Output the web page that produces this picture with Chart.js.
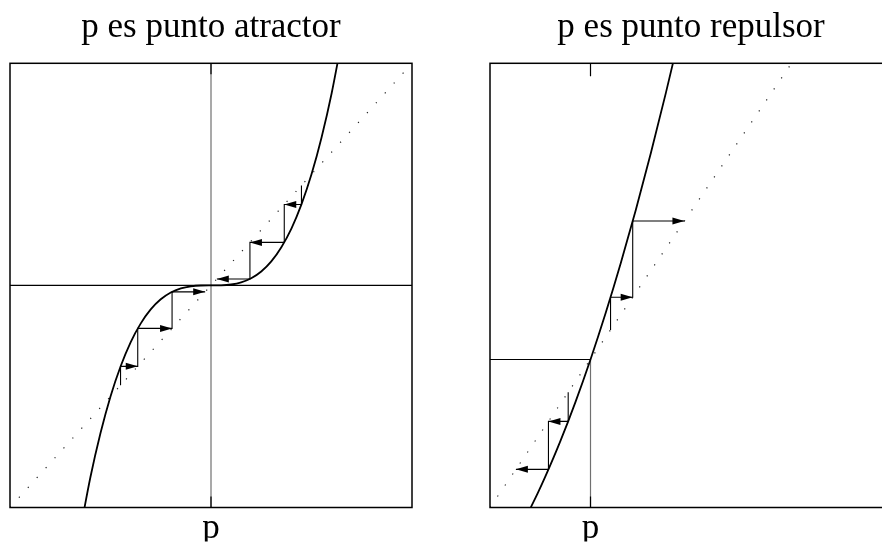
<!DOCTYPE html>
<html><head><meta charset="utf-8">
<script src="https://cdn.jsdelivr.net/npm/chart.js@4/dist/chart.umd.min.js"></script>
<style>
html,body{margin:0;padding:0;width:882px;height:543px;overflow:hidden;background:#fff;}
#wl{position:absolute;left:0;top:0;width:441px;height:543px;}
#wr{position:absolute;left:441px;top:0;width:480px;height:543px;}
</style></head><body>
<div id="wl"><canvas id="cl" width="441" height="543"></canvas></div>
<div id="wr"><canvas id="cr" width="480" height="543"></canvas></div>
<script>
// ---- data ----
const titles = ['p es punto atractor', 'p es punto repulsor'];
const tickLabel = 'p';

// left panel (attractor): axes range
const leftRangeX = [-1, 1];
const leftRangeY = [-1, 1];
const leftCurveX = [-0.66, -0.6, -0.55, -0.5, -0.45, -0.4, -0.35, -0.3, -0.25, -0.2, -0.15, -0.1, -0.05, 0, 0.05, 0.1, 0.15, 0.2, 0.25, 0.3, 0.35, 0.4, 0.45, 0.5, 0.55, 0.6, 0.66];
const leftCurveY = [-1.15, -0.864, -0.666, -0.5, -0.365, -0.256, -0.172, -0.108, -0.0625, -0.032, -0.0135, -0.004, -0.0005, 0, 0.0005, 0.004, 0.0135, 0.032, 0.0625, 0.108, 0.172, 0.256, 0.365, 0.5, 0.666, 0.864, 1.15];
const leftIterUpper = [0.45, 0.3645, 0.1937, 0.029];
const leftIterLower = [-0.45, -0.3645, -0.1937, -0.029];

// right panel (repulsor)
const rightRangeX = [-0.6667, 2];
const rightRangeY = [-0.6667, 1.3333];
const rightCurveX = [-0.42, -0.35, -0.3, -0.2, -0.1, 0, 0.1, 0.2, 0.3, 0.4, 0.5, 0.58];
const rightCurveY = [-0.699, -0.602, -0.528, -0.368, -0.192, 0, 0.208, 0.432, 0.672, 0.928, 1.2, 1.429];
const rightIterUpper = [0.133, 0.280, 0.623];
const rightIterLower = [-0.148, -0.279, -0.495];

// ---- helpers ----
function pts(xs, ys) { return xs.map((x, i) => ({ x: x, y: ys[i] })); }
function cobweb(it) {
  const p = [{ x: it[0], y: it[0] }];
  for (let i = 0; i < it.length - 1; i++) {
    p.push({ x: it[i], y: it[i + 1] });
    p.push({ x: it[i + 1], y: it[i + 1] });
  }
  return p;
}

const decor = {
  id: 'decor',
  afterDatasetsDraw(chart, args, opts) {
    const ctx = chart.ctx, a = chart.chartArea, sx = chart.scales.x, sy = chart.scales.y;
    ctx.save();
    ctx.fillStyle = '#000';
    chart.data.datasets.forEach(ds => {
      if (!ds.arrowHeads) return;
      const d = ds.data;
      for (let i = 1; i < d.length; i++) {
        if (d[i].y === d[i - 1].y && d[i].x !== d[i - 1].x) {
          const x1 = sx.getPixelForValue(d[i].x), y1 = sy.getPixelForValue(d[i].y);
          const x0 = sx.getPixelForValue(d[i - 1].x);
          const dir = Math.sign(x1 - x0);
          ctx.beginPath();
          ctx.moveTo(x1, y1);
          ctx.lineTo(x1 - dir * 12, y1 - 3.5);
          ctx.lineTo(x1 - dir * 12, y1 + 3.5);
          ctx.closePath();
          ctx.fill();
        }
      }
    });
    const px = sx.getPixelForValue(0);
    ctx.strokeStyle = '#000';
    ctx.lineWidth = 1.2;
    ctx.beginPath();
    if (opts.topTick) { ctx.moveTo(px, a.top); ctx.lineTo(px, a.top + opts.topTick); }
    if (opts.bottomTick) { ctx.moveTo(px, a.bottom); ctx.lineTo(px, a.bottom - opts.bottomTick); }
    ctx.stroke();
    ctx.lineWidth = 1.5;
    ctx.strokeRect(a.left, a.top, a.right - a.left, a.bottom - a.top);
    ctx.restore();
  }
};

function makeChart(id, cfg) {
  return new Chart(document.getElementById(id), {
    type: 'scatter',
    data: { datasets: cfg.datasets },
    options: {
      responsive: false, animation: false, devicePixelRatio: 1,
      layout: { padding: { left: cfg.padL, right: 29, top: 0, bottom: 1.5 } },
      elements: { point: { radius: 0, hoverRadius: 0 }, line: { fill: false } },
      plugins: {
        legend: { display: false }, tooltip: { enabled: false },
        title: {
          display: true, text: cfg.title, color: '#000',
          font: { family: 'Liberation Serif', size: 35, weight: 'normal', lineHeight: 1.2 },
          padding: { top: 6.5, bottom: 14.8 }
        },
        decor: { topTick: cfg.topTick, bottomTick: cfg.bottomTick }
      },
      scales: {
        x: {
          type: 'linear', min: cfg.rx[0], max: cfg.rx[1],
          grid: { display: false, drawTicks: false }, border: { display: false },
          afterBuildTicks: ax => { ax.ticks = [{ value: 0 }]; },
          afterFit: ax => { ax.height = 34; },
          ticks: { callback: () => tickLabel, color: '#000', padding: 13, autoSkip: false, maxRotation: 0,
                   font: { family: 'Liberation Serif', size: 35, lineHeight: 0.486 } }
        },
        y: { type: 'linear', display: false, min: cfg.ry[0], max: cfg.ry[1] }
      }
    },
    plugins: [decor]
  });
}

const lineDs = (data, extra) => Object.assign({ data: data, showLine: true, borderColor: '#000', borderWidth: 1, pointRadius: 0, tension: 0 }, extra || {});

makeChart('cl', {
  title: titles[0], padL: 10, rx: leftRangeX, ry: leftRangeY, topTick: 11, bottomTick: 11,
  datasets: [
    lineDs(cobweb(leftIterUpper), { arrowHeads: true, borderWidth: 1.1 }),
    lineDs(cobweb(leftIterLower), { arrowHeads: true, borderWidth: 1.1 }),
    lineDs(pts(leftCurveX, leftCurveY), { borderWidth: 1.8, cubicInterpolationMode: 'monotone' }),
    lineDs([{ x: leftRangeX[0], y: leftRangeY[0] }, { x: leftRangeX[1], y: leftRangeY[1] }], { borderDash: [1.2, 12.1], borderWidth: 1.2, borderColor: '#222' }),
    lineDs([{ x: leftRangeX[0], y: 0 }, { x: leftRangeX[1], y: 0 }], { borderWidth: 1.1 }),
    lineDs([{ x: 0, y: leftRangeY[0] }, { x: 0, y: leftRangeY[1] }], { borderWidth: 1.2, borderColor: '#707070' })
  ]
});

makeChart('cr', {
  title: titles[1], padL: 49, rx: rightRangeX, ry: rightRangeY, topTick: 13, bottomTick: 11,
  datasets: [
    lineDs(cobweb(rightIterUpper), { arrowHeads: true, borderWidth: 1.1 }),
    lineDs(cobweb(rightIterLower), { arrowHeads: true, borderWidth: 1.1 }),
    lineDs(pts(rightCurveX, rightCurveY), { borderWidth: 1.8, cubicInterpolationMode: 'monotone' }),
    lineDs([{ x: rightRangeX[0], y: rightRangeY[0] }, { x: rightRangeY[1], y: rightRangeY[1] }], { borderDash: [1.2, 12.1], borderWidth: 1.2, borderColor: '#222' }),
    lineDs([{ x: rightRangeX[0], y: 0 }, { x: 0, y: 0 }], { borderWidth: 1.1 }),
    lineDs([{ x: 0, y: 0 }, { x: 0, y: rightRangeY[0] }], { borderWidth: 1.2, borderColor: '#707070' })
  ]
});
</script>
</body></html>
